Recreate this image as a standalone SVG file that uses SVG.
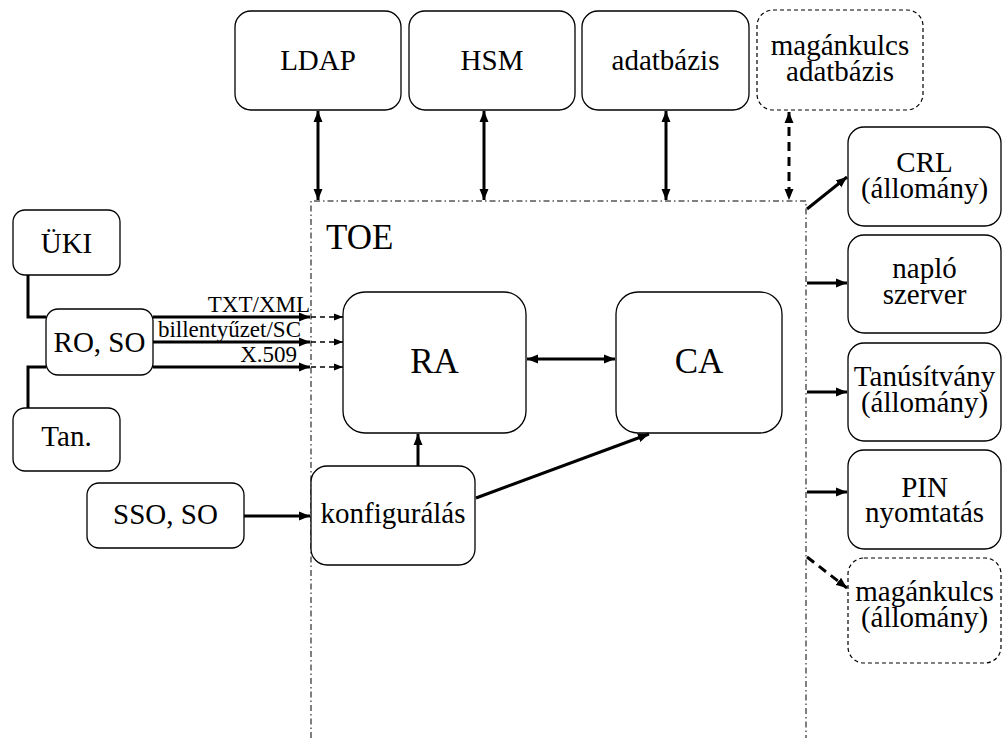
<svg xmlns="http://www.w3.org/2000/svg" width="1002" height="738" viewBox="0 0 1002 738">
  <defs>
    <marker id="ah" markerUnits="userSpaceOnUse" markerWidth="12" markerHeight="10" refX="11" refY="5" orient="auto-start-reverse">
      <path d="M0,0.5 L11,5 L0,9.5 z" fill="#000"/>
    </marker>
    <marker id="ahs" markerUnits="userSpaceOnUse" markerWidth="10" markerHeight="8" refX="9" refY="4" orient="auto-start-reverse">
      <path d="M0,0.5 L9,4 L0,7.5 z" fill="#000"/>
    </marker>
    <style>
      .box { fill: #fff; stroke: #000; stroke-width: 1.3; }
      .dbox { fill: #fff; stroke: #000; stroke-width: 1.2; stroke-dasharray: 4 3; }
      text { font-family: "Liberation Serif", "Times New Roman", serif; fill: #000; }
      .t { font-size: 29px; text-anchor: middle; }
      .big { font-size: 35px; }
      .lab { font-size: 23px; text-anchor: end; }
      .thick { fill: none; stroke: #000; stroke-width: 3; }
      .arr { fill: none; stroke: #000; stroke-width: 3; marker-end: url(#ah); }
      .darr { fill: none; stroke: #000; stroke-width: 3; marker-start: url(#ah); marker-end: url(#ah); }
      .dash { fill: none; stroke: #000; stroke-width: 1.5; stroke-dasharray: 5 4; marker-end: url(#ahs); }
      .toe { fill: none; stroke: #000; stroke-width: 1; stroke-dasharray: 6 3 1.5 3; }
    </style>
  </defs>

  <!-- TOE boundary (open at the bottom) -->
  <g id="toe">
    <path class="toe" d="M311,738 V201 H806 V738"/>
    <text class="big" x="326" y="249">TOE</text>
  </g>

  <!-- top row -->
  <g id="ldap"><rect class="box" x="235" y="11" width="166" height="99" rx="16"/><text class="t" x="318" y="70">LDAP</text></g>
  <g id="hsm"><rect class="box" x="409" y="11" width="166" height="99" rx="16"/><text class="t" x="492" y="70">HSM</text></g>
  <g id="adatbazis"><rect class="box" x="582" y="11" width="167" height="99" rx="16"/><text class="t" x="665.5" y="70">adatbázis</text></g>
  <g id="magankulcs-adatbazis"><rect class="dbox" x="757" y="10" width="166" height="100" rx="16"/><text class="t" x="840" y="55">magánkulcs</text><text class="t" x="840" y="81">adatbázis</text></g>

  <!-- left side -->
  <g id="uki"><rect class="box" x="13" y="210" width="107" height="65" rx="12"/><text class="t" x="66.5" y="253">ÜKI</text></g>
  <g id="ro-so"><rect class="box" x="46" y="309" width="107" height="66" rx="12"/><text class="t" x="99.5" y="352">RO, SO</text></g>
  <g id="tan"><rect class="box" x="13" y="408" width="107" height="63" rx="12"/><text class="t" x="66.5" y="446">Tan.</text></g>
  <g id="sso-so"><rect class="box" x="87" y="483" width="157" height="65" rx="12"/><text class="t" x="165.5" y="524">SSO, SO</text></g>

  <!-- inside TOE -->
  <g id="ra"><rect class="box" x="343" y="292" width="183" height="141" rx="22"/><text class="t big" x="434.5" y="373">RA</text></g>
  <g id="ca"><rect class="box" x="616" y="292" width="166" height="141" rx="22"/><text class="t big" x="699" y="373">CA</text></g>
  <g id="konfiguralas"><rect class="box" x="311" y="466" width="164" height="99" rx="16"/><text class="t" x="393" y="523">konfigurálás</text></g>

  <!-- right column -->
  <g id="crl"><rect class="box" x="848" y="127" width="153" height="99" rx="16"/><text class="t" x="924.5" y="172">CRL</text><text class="t" x="924.5" y="198">(állomány)</text></g>
  <g id="naplo"><rect class="box" x="848" y="235" width="153" height="98" rx="16"/><text class="t" x="924.5" y="278">napló</text><text class="t" x="924.5" y="304">szerver</text></g>
  <g id="tanusitvany"><rect class="box" x="848" y="343" width="153" height="98" rx="16"/><text class="t" x="924.5" y="386">Tanúsítvány</text><text class="t" x="924.5" y="412">(állomány)</text></g>
  <g id="pin"><rect class="box" x="848" y="450" width="153" height="99" rx="16"/><text class="t" x="924.5" y="497">PIN</text><text class="t" x="924.5" y="522">nyomtatás</text></g>
  <g id="magankulcs-allomany"><rect class="dbox" x="848" y="558" width="153" height="105" rx="16"/><text class="t" x="924.5" y="601">magánkulcs</text><text class="t" x="924.5" y="627">(állomány)</text></g>

  <!-- connectors -->
  <g id="connectors">
    <line class="darr" x1="318" y1="111" x2="318" y2="200"/>
    <line class="darr" x1="484" y1="111" x2="484" y2="200"/>
    <line class="darr" x1="666" y1="111" x2="666" y2="200"/>
    <line class="darr" x1="789" y1="112" x2="789" y2="200" style="stroke-dasharray:9 6"/>

    <path class="thick" d="M28,275 V317 H46"/>
    <path class="thick" d="M28,408 V367 H46"/>

    <line class="arr" x1="153" y1="317" x2="310" y2="317"/>
    <line class="arr" x1="153" y1="342" x2="310" y2="342"/>
    <line class="arr" x1="153" y1="367" x2="310" y2="367"/>
    <line class="dash" x1="311" y1="317" x2="343" y2="317"/>
    <line class="dash" x1="311" y1="342" x2="343" y2="342"/>
    <line class="dash" x1="311" y1="367" x2="343" y2="367"/>
    <text class="lab" x="310" y="312">TXT/XML</text>
    <text class="lab" x="301" y="337">billentyűzet/SC</text>
    <text class="lab" x="297" y="362">X.509</text>

    <line class="darr" x1="527" y1="359" x2="615" y2="359"/>
    <line class="arr" x1="418" y1="466" x2="418" y2="434"/>
    <line class="arr" x1="476" y1="498" x2="649" y2="434"/>
    <line class="arr" x1="244" y1="516" x2="310" y2="516"/>

    <line class="arr" x1="807" y1="209" x2="847" y2="177"/>
    <line class="arr" x1="807" y1="283" x2="847" y2="283"/>
    <line class="arr" x1="807" y1="392" x2="847" y2="392"/>
    <line class="arr" x1="807" y1="492" x2="847" y2="492"/>
    <line class="arr" x1="807" y1="557" x2="847" y2="588" style="stroke-dasharray:9 6"/>
  </g>
</svg>
